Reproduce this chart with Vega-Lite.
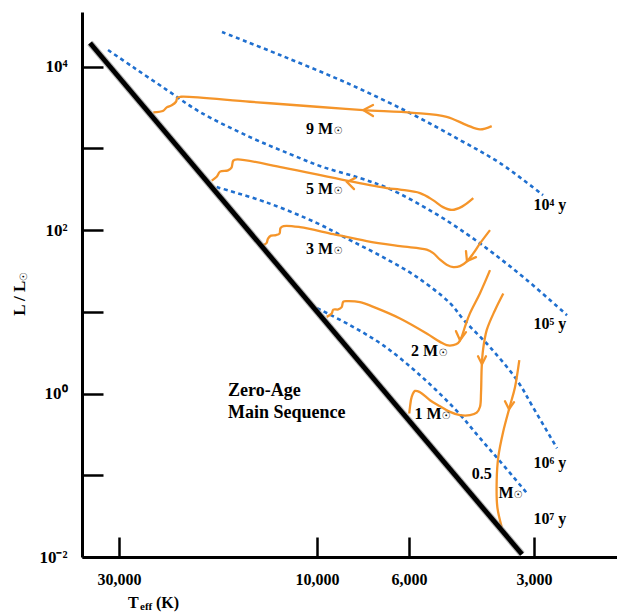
{
  "$schema": "https://vega.github.io/schema/vega-lite/v6.json",
  "width": 535,
  "height": 545,
  "autosize": {"type": "none"},
  "padding": {"left": 82, "top": 12, "right": 0, "bottom": 56},
  "background": "white",
  "config": {"view": {"stroke": null}, "axis": {"grid": false}},
  "datasets": {
    "tracks": [
      {"track":"9","i":0,"logT":3.5790,"logL":3.2739},{"track":"9","i":1,"logT":3.6072,"logL":3.2335},{"track":"9","i":2,"logT":3.6393,"logL":3.2862},{"track":"9","i":3,"logT":3.6875,"logL":3.3878},{"track":"9","i":4,"logT":3.7687,"logL":3.4367},{"track":"9","i":5,"logT":3.8884,"logL":3.4698},{"track":"9","i":6,"logT":4.0007,"logL":3.5103},{"track":"9","i":7,"logT":4.1614,"logL":3.5714},{"track":"9","i":8,"logT":4.3284,"logL":3.6327},{"track":"9","i":9,"logT":4.3366,"logL":3.6204},{"track":"9","i":10,"logT":4.3398,"logL":3.5714},{"track":"9","i":11,"logT":4.3501,"logL":3.5274},{"track":"9","i":12,"logT":4.3622,"logL":3.5029},{"track":"9","i":13,"logT":4.3704,"logL":3.4613},{"track":"9","i":14,"logT":4.3945,"logL":3.4417},
      {"track":"5","i":0,"logT":3.6234,"logL":2.3923},{"track":"5","i":1,"logT":3.6506,"logL":2.2883},{"track":"5","i":2,"logT":3.6747,"logL":2.2478},{"track":"5","i":3,"logT":3.6964,"logL":2.2821},{"track":"5","i":4,"logT":3.7205,"logL":2.3678},{"track":"5","i":5,"logT":3.7518,"logL":2.4535},{"track":"5","i":6,"logT":3.8000,"logL":2.4964},{"track":"5","i":7,"logT":3.8320,"logL":2.5148},{"track":"5","i":8,"logT":3.9284,"logL":2.6066},{"track":"5","i":9,"logT":4.0812,"logL":2.7658},{"track":"5","i":10,"logT":4.1920,"logL":2.8662},{"track":"5","i":11,"logT":4.2017,"logL":2.8515},{"track":"5","i":12,"logT":4.2060,"logL":2.7658},{"track":"5","i":13,"logT":4.2145,"logL":2.7315},{"track":"5","i":14,"logT":4.2337,"logL":2.7168},{"track":"5","i":15,"logT":4.2417,"logL":2.6531},{"track":"5","i":16,"logT":4.2537,"logL":2.6066},
      {"track":"3","i":0,"logT":3.5831,"logL":2.0005},{"track":"3","i":1,"logT":3.6072,"logL":1.8376},{"track":"3","i":2,"logT":3.6234,"logL":1.7152},{"track":"3","i":3,"logT":3.6393,"logL":1.6148},{"track":"3","i":4,"logT":3.6554,"logL":1.5597},{"track":"3","i":5,"logT":3.6716,"logL":1.5474},{"track":"3","i":6,"logT":3.6875,"logL":1.5781},{"track":"3","i":7,"logT":3.7036,"logL":1.6393},{"track":"3","i":8,"logT":3.7198,"logL":1.7189},{"track":"3","i":9,"logT":3.7357,"logL":1.7617},{"track":"3","i":10,"logT":3.8000,"logL":1.8046},{"track":"3","i":11,"logT":3.8802,"logL":1.8658},{"track":"3","i":12,"logT":3.9608,"logL":1.9515},{"track":"3","i":13,"logT":4.0410,"logL":2.0372},{"track":"3","i":14,"logT":4.0807,"logL":2.0495},{"track":"3","i":15,"logT":4.0880,"logL":2.0250},{"track":"3","i":16,"logT":4.0904,"logL":1.9576},{"track":"3","i":17,"logT":4.0988,"logL":1.9393},{"track":"3","i":18,"logT":4.1108,"logL":1.9331},{"track":"3","i":19,"logT":4.1181,"logL":1.8964},{"track":"3","i":20,"logT":4.1217,"logL":1.8413},{"track":"3","i":21,"logT":4.1301,"logL":1.8168},
      {"track":"2","i":0,"logT":3.5831,"logL":1.5107},{"track":"2","i":1,"logT":3.6072,"logL":1.2291},{"track":"2","i":2,"logT":3.6313,"logL":0.9842},{"track":"2","i":3,"logT":3.6434,"logL":0.8189},{"track":"2","i":4,"logT":3.6518,"logL":0.6903},{"track":"2","i":5,"logT":3.6602,"logL":0.6169},{"track":"2","i":6,"logT":3.6716,"logL":0.5924},{"track":"2","i":7,"logT":3.6875,"logL":0.5924},{"track":"2","i":8,"logT":3.7036,"logL":0.6328},{"track":"2","i":9,"logT":3.7357,"logL":0.7356},{"track":"2","i":10,"logT":3.8000,"logL":0.9193},{"track":"2","i":11,"logT":3.8643,"logL":1.0613},{"track":"2","i":12,"logT":3.8964,"logL":1.1189},{"track":"2","i":13,"logT":3.9253,"logL":1.1311},{"track":"2","i":14,"logT":3.9366,"logL":1.1250},{"track":"2","i":15,"logT":3.9405,"logL":1.0577},{"track":"2","i":16,"logT":3.9487,"logL":1.0295},{"track":"2","i":17,"logT":3.9608,"logL":1.0271},{"track":"2","i":18,"logT":3.9646,"logL":0.9805},{"track":"2","i":19,"logT":3.9767,"logL":0.9389},
      {"track":"1","i":0,"logT":3.5511,"logL":1.2254},{"track":"1","i":1,"logT":3.5711,"logL":1.0209},{"track":"1","i":2,"logT":3.5911,"logL":0.7761},{"track":"1","i":3,"logT":3.6000,"logL":0.5312},{"track":"1","i":4,"logT":3.6031,"logL":0.3267},{"track":"1","i":5,"logT":3.6048,"logL":0.0047},{"track":"1","i":6,"logT":3.6072,"logL":-0.1606},{"track":"1","i":7,"logT":3.6152,"logL":-0.2341},{"track":"1","i":8,"logT":3.6313,"logL":-0.2647},{"track":"1","i":9,"logT":3.6554,"logL":-0.2647},{"track":"1","i":10,"logT":3.6795,"logL":-0.2243},{"track":"1","i":11,"logT":3.7036,"logL":-0.1545},{"track":"1","i":12,"logT":3.7277,"logL":-0.0811},{"track":"1","i":13,"logT":3.7518,"logL":0.0169},{"track":"1","i":14,"logT":3.7639,"logL":0.0328},{"track":"1","i":15,"logT":3.7718,"logL":-0.0407},{"track":"1","i":16,"logT":3.7759,"logL":-0.1631},{"track":"1","i":17,"logT":3.7776,"logL":-0.2439},
      {"track":"0.5","i":0,"logT":3.5125,"logL":0.4087},{"track":"0.5","i":1,"logT":3.5229,"logL":0.0781},{"track":"0.5","i":2,"logT":3.5349,"logL":-0.1484},{"track":"0.5","i":3,"logT":3.5511,"logL":-0.4606},{"track":"0.5","i":4,"logT":3.5631,"logL":-0.7753},{"track":"0.5","i":5,"logT":3.5670,"logL":-1.0606},{"track":"0.5","i":6,"logT":3.5655,"logL":-1.3875},{"track":"0.5","i":7,"logT":3.5549,"logL":-1.6324}
    ],
    "arrows": [
      {"arrow":"9","i":0,"logT":3.8651,"logL":3.5311},{"arrow":"9","i":1,"logT":3.8884,"logL":3.4698},{"arrow":"9","i":2,"logT":3.8651,"logL":3.3964},
      {"arrow":"5","i":0,"logT":3.9084,"logL":2.6372},{"arrow":"5","i":1,"logT":3.9277,"logL":2.5883},{"arrow":"5","i":2,"logT":3.9108,"logL":2.5025},
      {"arrow":"3","i":0,"logT":3.6410,"logL":1.7434},{"arrow":"3","i":1,"logT":3.6386,"logL":1.6209},{"arrow":"3","i":2,"logT":3.6169,"logL":1.6699},
      {"arrow":"2","i":0,"logT":3.6651,"logL":0.7638},{"arrow":"2","i":1,"logT":3.6554,"logL":0.6536},{"arrow":"2","i":2,"logT":3.6410,"logL":0.7516},
      {"arrow":"1","i":0,"logT":3.6120,"logL":0.4577},{"arrow":"1","i":1,"logT":3.6024,"logL":0.3597},{"arrow":"1","i":2,"logT":3.5928,"logL":0.4577},
      {"arrow":"0.5","i":0,"logT":3.5470,"logL":-0.0933},{"arrow":"0.5","i":1,"logT":3.5373,"logL":-0.1913},{"arrow":"0.5","i":2,"logT":3.5253,"logL":-0.1055}
    ],
    "isochrones": [
      {"age":"1e4","i":0,"logT":4.2289,"logL":4.4249},{"age":"1e4","i":1,"logT":4.0892,"logL":4.1433},{"age":"1e4","i":2,"logT":3.9277,"logL":3.8004},{"age":"1e4","i":3,"logT":3.7759,"logL":3.4331},{"age":"1e4","i":4,"logT":3.6554,"logL":3.1025},{"age":"1e4","i":5,"logT":3.5590,"logL":2.8209},{"age":"1e4","i":6,"logT":3.4554,"logL":2.4290},
      {"age":"1e5","i":0,"logT":4.5036,"logL":4.2045},{"age":"1e5","i":1,"logT":4.4434,"logL":3.9964},{"age":"1e5","i":2,"logT":4.3614,"logL":3.7147},{"age":"1e5","i":3,"logT":4.2819,"logL":3.4454},{"age":"1e5","i":4,"logT":4.1614,"logL":3.1392},{"age":"1e5","i":5,"logT":4.0651,"logL":2.9311},{"age":"1e5","i":6,"logT":3.9855,"logL":2.7719},{"age":"1e5","i":7,"logT":3.8964,"logL":2.6372},{"age":"1e5","i":8,"logT":3.8241,"logL":2.5025},{"age":"1e5","i":9,"logT":3.7205,"logL":2.2209},{"age":"1e5","i":10,"logT":3.6386,"logL":1.9515},{"age":"1e5","i":11,"logT":3.5759,"logL":1.7189},{"age":"1e5","i":12,"logT":3.4940,"logL":1.3883},{"age":"1e5","i":13,"logT":3.3976,"logL":0.9597},
      {"age":"1e6","i":0,"logT":4.2417,"logL":2.5270},{"age":"1e6","i":1,"logT":4.1205,"logL":2.3372},{"age":"1e6","i":2,"logT":4.0000,"logL":2.0862},{"age":"1e6","i":3,"logT":3.9205,"logL":1.8781},{"age":"1e6","i":4,"logT":3.8410,"logL":1.6699},{"age":"1e6","i":5,"logT":3.7590,"logL":1.4250},{"age":"1e6","i":6,"logT":3.6795,"logL":1.1066},{"age":"1e6","i":7,"logT":3.6458,"logL":0.8985},{"age":"1e6","i":8,"logT":3.5831,"logL":0.5679},{"age":"1e6","i":9,"logT":3.5181,"logL":0.1638},{"age":"1e6","i":10,"logT":3.4795,"logL":-0.1668},{"age":"1e6","i":11,"logT":3.4217,"logL":-0.6688},
      {"age":"1e7","i":0,"logT":4.0000,"logL":1.0454},{"age":"1e7","i":1,"logT":3.9205,"logL":0.8373},{"age":"1e7","i":2,"logT":3.8410,"logL":0.5924},{"age":"1e7","i":3,"logT":3.7518,"logL":0.2251},{"age":"1e7","i":4,"logT":3.6627,"logL":-0.2157},{"age":"1e7","i":5,"logT":3.6072,"logL":-0.5463},{"age":"1e7","i":6,"logT":3.5590,"logL":-0.8280},{"age":"1e7","i":7,"logT":3.4940,"logL":-1.2198}
    ],
    "zams": [
      {"i":0,"logT":4.547,"logL":4.290},{"i":1,"logT":3.506,"logL":-1.967}
    ],
    "labels": [
      {"kind":"mass","text":"9 M","logT":3.9614,"logL":3.1760},
      {"kind":"mass","text":"5 M","logT":3.9614,"logL":2.4376},
      {"kind":"mass","text":"3 M","logT":3.9614,"logL":1.7066},
      {"kind":"mass","text":"2 M","logT":3.7084,"logL":0.4577},
      {"kind":"mass","text":"1 M","logT":3.7000,"logL":-0.3137},
      {"kind":"mass","text":"0.5","logT":3.5790,"logL":-1.0398},
      {"kind":"mass","text":"M","logT":3.5265,"logL":-1.2810},
      {"kind":"sun","text":"☉","logT":3.9494,"logL":3.2127},
      {"kind":"sun","text":"☉","logT":3.9494,"logL":2.4780},
      {"kind":"sun","text":"☉","logT":3.9494,"logL":1.7434},
      {"kind":"sun","text":"☉","logT":3.6964,"logL":0.4944},
      {"kind":"sun","text":"☉","logT":3.6892,"logL":-0.2770},
      {"kind":"sun","text":"☉","logT":3.5157,"logL":-1.2443},
      {"kind":"age","text":"10⁴ y","logT":3.4783,"logL":2.2454},
      {"kind":"age","text":"10⁵ y","logT":3.4783,"logL":0.7920},
      {"kind":"age","text":"10⁶ y","logT":3.4783,"logL":-0.9051},
      {"kind":"age","text":"10⁷ y","logT":3.4783,"logL":-1.5994},
      {"kind":"zams","text":"Zero-Age","logT":4.2145,"logL":-0.0321},
      {"kind":"zams","text":"Main Sequence","logT":4.2145,"logL":-0.3015},
      {"kind":"title","text":"T","logT":4.4554,"logL":-2.5667},
      {"kind":"sub","text":"eff","logT":4.4265,"logL":-2.6157},
      {"kind":"title","text":"(K)","logT":4.3880,"logL":-2.5667},
      {"kind":"ytitle","text":"L / L","logT":4.7157,"logL":1.1679},
      {"kind":"ysun","text":"☉","logT":4.7072,"logL":1.4311}
    ]
  },
  "encoding": {
    "x": {
      "field": "logT", "type": "quantitative",
      "scale": {"domain": [3.2771, 4.5663], "reverse": true, "nice": false, "zero": false},
      "axis": {
        "values": [3.47712, 3.77815, 4, 4.47712],
        "labelExpr": "format(pow(10, datum.value), ',.0f')",
        "title": null,
        "tickSize": -20, "tickWidth": 2.5, "tickColor": "black",
        "domainWidth": 3, "domainColor": "black",
        "labelFont": "Liberation Serif", "labelFontWeight": "bold", "labelFontSize": 16, "labelColor": "black",
        "labelPadding": 34, "labelFlush": false, "labelOverlap": false
      }
    },
    "y": {
      "field": "logL", "type": "quantitative",
      "scale": {"domain": [-2, 4.67], "nice": false, "zero": false},
      "axis": {
        "values": [-2, -1, 0, 1, 2, 3, 4],
        "labelExpr": "datum.value == 4 ? '10⁴' : datum.value == 2 ? '10²' : datum.value == 0 ? '10⁰' : datum.value == -2 ? '10⁻²' : ''",
        "title": null,
        "tickSize": -21, "tickWidth": 2.5, "tickColor": "black",
        "domainWidth": 3, "domainColor": "black",
        "labelFont": "Liberation Serif", "labelFontWeight": "bold", "labelFontSize": 17, "labelColor": "black",
        "labelPadding": 36, "labelFlush": false, "labelOverlap": false
      }
    }
  },
  "layer": [
    {
      "data": {"name": "isochrones"},
      "mark": {"type": "line", "color": "#1f6fcf", "strokeWidth": 2.6, "strokeDash": [4, 3.5], "interpolate": "catmull-rom"},
      "encoding": {"detail": {"field": "age"}, "order": {"field": "i", "type": "quantitative"}}
    },
    {
      "data": {"name": "tracks"},
      "mark": {"type": "line", "color": "#f5952a", "strokeWidth": 2.3, "interpolate": "catmull-rom"},
      "encoding": {"detail": {"field": "track"}, "order": {"field": "i", "type": "quantitative"}}
    },
    {
      "data": {"name": "arrows"},
      "mark": {"type": "line", "color": "#f5952a", "strokeWidth": 2.3, "strokeJoin": "miter", "strokeCap": "round"},
      "encoding": {"detail": {"field": "arrow"}, "order": {"field": "i", "type": "quantitative"}}
    },
    {
      "data": {"name": "zams"},
      "mark": {"type": "line", "color": "#8a8a8a", "strokeWidth": 7, "opacity": 0.6},
      "encoding": {"order": {"field": "i", "type": "quantitative"}}
    },
    {
      "data": {"name": "zams"},
      "mark": {"type": "line", "color": "black", "strokeWidth": 4.8},
      "encoding": {"order": {"field": "i", "type": "quantitative"}}
    },
    {
      "data": {"name": "labels"},
      "transform": [{"filter": "datum.kind == 'mass'"}],
      "mark": {"type": "text", "font": "Liberation Serif", "fontWeight": "bold", "fontSize": 16, "color": "black", "align": "right", "baseline": "alphabetic"},
      "encoding": {"text": {"field": "text"}}
    },
    {
      "data": {"name": "labels"},
      "transform": [{"filter": "datum.kind == 'sun'"}],
      "mark": {"type": "text", "font": "DejaVu Sans", "fontWeight": "bold", "fontSize": 10, "color": "black", "align": "center", "baseline": "middle"},
      "encoding": {"text": {"field": "text"}}
    },
    {
      "data": {"name": "labels"},
      "transform": [{"filter": "datum.kind == 'age'"}],
      "mark": {"type": "text", "font": "Liberation Serif", "fontWeight": "bold", "fontSize": 16, "color": "black", "align": "left", "baseline": "alphabetic"},
      "encoding": {"text": {"field": "text"}}
    },
    {
      "data": {"name": "labels"},
      "transform": [{"filter": "datum.kind == 'zams'"}],
      "mark": {"type": "text", "font": "Liberation Serif", "fontWeight": "bold", "fontSize": 18, "color": "black", "align": "left", "baseline": "alphabetic"},
      "encoding": {"text": {"field": "text"}}
    },
    {
      "data": {"name": "labels"},
      "transform": [{"filter": "datum.kind == 'title'"}],
      "mark": {"type": "text", "font": "Liberation Serif", "fontWeight": "bold", "fontSize": 16, "color": "black", "align": "left", "baseline": "middle"},
      "encoding": {"text": {"field": "text"}}
    },
    {
      "data": {"name": "labels"},
      "transform": [{"filter": "datum.kind == 'sub'"}],
      "mark": {"type": "text", "font": "Liberation Serif", "fontWeight": "bold", "fontSize": 11, "color": "black", "align": "left", "baseline": "middle"},
      "encoding": {"text": {"field": "text"}}
    },
    {
      "data": {"name": "labels"},
      "transform": [{"filter": "datum.kind == 'ytitle'"}],
      "mark": {"type": "text", "font": "Liberation Serif", "fontWeight": "bold", "fontSize": 17, "color": "black", "align": "center", "baseline": "middle", "angle": 270},
      "encoding": {"text": {"field": "text"}}
    },
    {
      "data": {"name": "labels"},
      "transform": [{"filter": "datum.kind == 'ysun'"}],
      "mark": {"type": "text", "font": "DejaVu Sans", "fontWeight": "bold", "fontSize": 10, "color": "black", "align": "center", "baseline": "middle", "angle": 270},
      "encoding": {"text": {"field": "text"}}
    }
  ]
}
